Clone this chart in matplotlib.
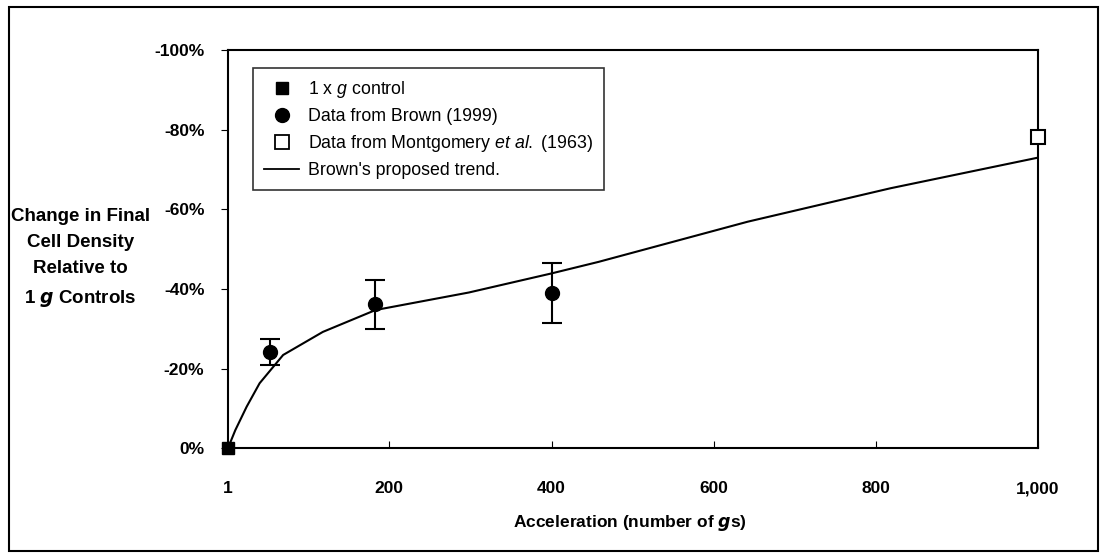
import matplotlib.pyplot as plt
import matplotlib.patches as patches
from matplotlib.lines import Line2D
from matplotlib.ticker import FuncFormatter

plt.rcParams['font.family'] = ['Liberation Sans', 'DejaVu Sans']
plt.rcParams['mathtext.fontset'] = 'custom'
plt.rcParams['mathtext.it'] = 'Liberation Sans:italic'
plt.rcParams['mathtext.rm'] = 'Liberation Sans'
plt.rcParams['mathtext.bf'] = 'Liberation Sans:bold'

# данные
ctrl_x = [1]
ctrl_y = [0]

brown_x = [53, 182, 400]
brown_y = [-24.2, -36.1, -38.9]
brown_err = [3.3, 6.2, 7.5]

mont_x = [1000]
mont_y = [-78.2]

trend_x = [1, 10, 24, 40, 69, 118, 183, 298, 400, 458, 642, 818, 1000]
trend_y = [0, -4.5, -10.4, -16.3, -23.4, -29.2, -34.7, -39.1, -43.9, -46.8, -56.9, -65.3, -73.0]

x_ticks = [1, 200, 400, 600, 800, 1000]
x_tick_labels = ['1', '200', '400', '600', '800', '1,000']
y_ticks = [0, -20, -40, -60, -80, -100]

fig = plt.figure(figsize=(11.02, 5.58), dpi=100)
ax = fig.add_axes([0.2069, 0.197, 0.735, 0.713])

ax.plot(trend_x, trend_y, color='black', lw=1.5, zorder=2)
ax.plot(ctrl_x, ctrl_y, 's', color='black', ms=9, clip_on=False, zorder=4)
ax.errorbar(brown_x, brown_y, yerr=brown_err, fmt='o', color='black', ms=10,
            capsize=7, elinewidth=1.5, capthick=1.5, zorder=3)
ax.plot(mont_x, mont_y, 's', mfc='white', mec='black', mew=1.5, ms=10,
        clip_on=False, zorder=4)

ax.set_xlim(1, 1000)
ax.set_ylim(0, -100)
ax.set_xticks(x_ticks)
ax.set_xticklabels(x_tick_labels)
ax.set_yticks(y_ticks)
ax.yaxis.set_major_formatter(FuncFormatter(lambda v, p: '%d%%' % v))
ax.tick_params(axis='x', direction='in', length=5, pad=24, labelsize=12.5)
ax.tick_params(axis='y', direction='out', length=5, pad=12, labelsize=12.5)
for t in ax.get_xticklabels() + ax.get_yticklabels():
    t.set_fontweight('bold')
for s in ax.spines.values():
    s.set_linewidth(1.5)

# легенда вручную, чтобы был нужный порядок и без усов
hl = [Line2D([], [], ls='none', marker='s', color='black', ms=9),
      Line2D([], [], ls='none', marker='o', color='black', ms=10),
      Line2D([], [], ls='none', marker='s', mfc='white', mec='black', mew=1.3, ms=10),
      Line2D([], [], color='black', lw=1.3)]
ll = [r'1 x $\mathit{g}$ control',
      'Data from Brown (1999)',
      r'Data from Montgomery $\mathit{et\ al.}$ (1963)',
      "Brown's proposed trend."]
leg = ax.legend(hl, ll, loc='upper left', bbox_to_anchor=(0.02, 0.977), fontsize=12.8,
                frameon=True, fancybox=False, edgecolor='black', handlelength=2.0,
                borderpad=0.6, labelspacing=0.45, handletextpad=0.5)
leg.get_frame().set_linewidth(1.2)

fig.text(0.073, 0.537, 'Change in Final\nCell Density\nRelative to\n' + r'1 $\mathbfit{g}$ Controls',
         ha='center', va='center', fontsize=13.5, fontweight='bold', linespacing=1.7)
fig.text(0.572, 0.062, r'Acceleration (number of $\mathbfit{g}$s)', ha='center', va='center',
         fontsize=12.5, fontweight='bold')

# рамка вокруг всего рисунка
fig.patches.append(patches.Rectangle((0.008, 0.012), 0.988, 0.975, transform=fig.transFigure,
                                     fill=False, edgecolor='black', lw=1.5))

fig.savefig('out.png', dpi=100)
